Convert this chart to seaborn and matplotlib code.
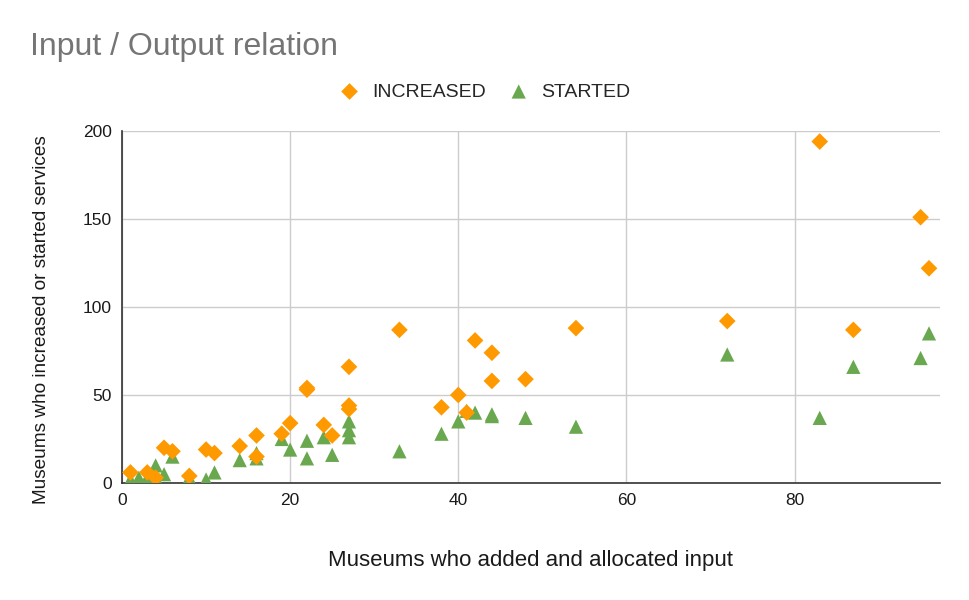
import pandas as pd
import seaborn as sns
import matplotlib as mpl
import matplotlib.pyplot as plt

mpl.use('Agg')

# values
inc_x = [1, 3, 4, 5, 6, 8, 10, 11, 14, 16, 16, 19, 20, 22, 22, 24, 25, 27, 27, 27,
         33, 38, 40, 41, 42, 44, 44, 48, 54, 72, 83, 87, 95, 96]
inc_y = [6, 6, 3, 20, 18, 4, 19, 17, 21, 27, 15, 28, 34, 53, 54, 33, 27, 66, 44, 42,
         87, 43, 50, 40, 81, 74, 58, 59, 88, 92, 194, 87, 151, 122]
sta_x = [1, 2, 3, 4, 4, 5, 6, 8, 10, 11, 14, 16, 16, 19, 20, 22, 22, 24, 25, 27, 27, 27,
         33, 38, 40, 41, 42, 44, 44, 48, 54, 72, 83, 87, 95, 96]
sta_y = [2, 3, 3, 10, 3, 5, 15, 3, 2, 6, 13, 17, 14, 25, 19, 24, 14, 26, 16, 35, 30, 26,
         18, 28, 35, 41, 40, 39, 38, 37, 32, 73, 37, 66, 71, 85]

df = pd.concat([
    pd.DataFrame({'input': inc_x, 'output': inc_y, 'series': 'INCREASED'}),
    pd.DataFrame({'input': sta_x, 'output': sta_y, 'series': 'STARTED'}),
])

sns.set_style('white')
plt.rcParams['font.family'] = ['Liberation Sans', 'DejaVu Sans']

fig = plt.figure(figsize=(9.7, 6), dpi=100)
ax = fig.add_axes([0.1258, 0.195, 0.8432, 0.5867])

colors = {'INCREASED': '#ff9900', 'STARTED': '#6aa84f'}
sizes = {'INCREASED': 72, 'STARTED': 105}
markers = {'INCREASED': 'D', 'STARTED': '^'}
for name in ['STARTED', 'INCREASED']:
    sub = df[df['series'] == name]
    sns.scatterplot(data=sub, x='input', y='output', ax=ax, color=colors[name],
                    marker=markers[name], s=sizes[name], edgecolor='none',
                    label=name, zorder=3)

ax.set_xlim(0, 97.3)
ax.set_ylim(0, 200)
ax.set_xticks([0, 20, 40, 60, 80])
ax.set_yticks([0, 50, 100, 150, 200])
ax.grid(True, color='#cccccc', linewidth=1)
ax.set_axisbelow(True)
for s in ['top', 'right']:
    ax.spines[s].set_visible(False)
for s in ['left', 'bottom']:
    ax.spines[s].set_color('#333333')
    ax.spines[s].set_linewidth(1.2)
ax.tick_params(axis='both', length=3, width=1, color='#cccccc', labelsize=12.5,
               labelcolor='#1a1a1a', pad=4.5)

ax.set_xlabel('Museums who added and allocated input', fontsize=16, color='#1a1a1a', labelpad=30)
ax.set_ylabel('Museums who increased or started services', fontsize=13.7, color='#1a1a1a')
ax.yaxis.set_label_coords(-0.088, 0.463)

fig.text(0.031, 0.922, 'Input / Output relation', fontsize=23, color='#757575', va='center')

handles, labels = ax.get_legend_handles_labels()
order = [labels.index('INCREASED'), labels.index('STARTED')]
ax.legend([handles[i] for i in order], [labels[i] for i in order],
          loc='center', bbox_to_anchor=(0.495, 0.847), bbox_transform=fig.transFigure,
          ncol=2, frameon=False, fontsize=14, handletextpad=0.15, columnspacing=0.7,
          markerscale=1.0)

fig.savefig('out.png', dpi=100)
